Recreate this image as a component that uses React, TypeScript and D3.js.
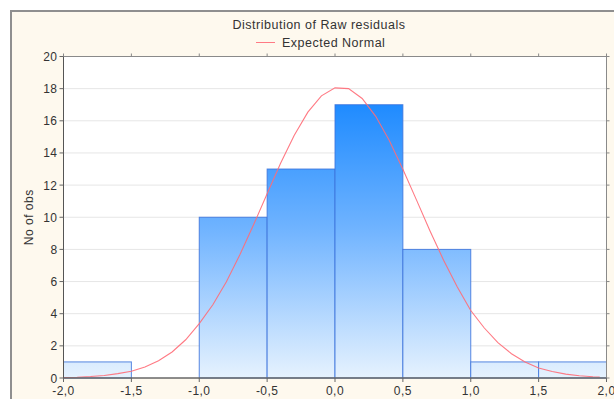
import React from "react";
import * as d3 from "d3";

const binEdges = [-2.0, -1.5, -1.0, -0.5, 0.0, 0.5, 1.0, 1.5, 2.0];
const binCounts = [1, 0, 10, 13, 17, 8, 1, 1];

const curveX = [
  -2.0, -1.9, -1.8, -1.7, -1.6, -1.5, -1.4, -1.3, -1.2, -1.1, -1.0, -0.9, -0.8, -0.7,
  -0.6, -0.5, -0.4, -0.3, -0.2, -0.1, 0.0, 0.1, 0.2, 0.3, 0.4, 0.5, 0.6, 0.7, 0.8,
  0.9, 1.0, 1.1, 1.2, 1.3, 1.4, 1.5, 1.6, 1.7, 1.8, 1.9, 1.95,
];
const curveY = [
  0.03, 0.05, 0.09, 0.16, 0.27, 0.42, 0.68, 1.07, 1.62, 2.38, 3.38, 4.56, 5.99, 7.68,
  9.53, 11.46, 13.37, 15.1, 16.54, 17.55, 18.05, 18.0, 17.39, 16.28, 14.78, 12.99,
  11.08, 9.15, 7.33, 5.68, 4.2, 3.11, 2.2, 1.51, 1.0, 0.62, 0.4, 0.24, 0.14, 0.08, 0.06,
];

const xTicks = [-2.0, -1.5, -1.0, -0.5, 0.0, 0.5, 1.0, 1.5, 2.0];
const yTicks = [0, 2, 4, 6, 8, 10, 12, 14, 16, 18, 20];

const title = "Distribution of Raw residuals";
const legendLabel = "Expected Normal";
const yTitle = "No of obs";

const W = 614;
const H = 399;
const plot = { left: 63.5, right: 606.5, top: 56.5, bottom: 378 };
const FONT = "Arial, 'Liberation Sans', sans-serif";
const FS = 12;
const LS = 0.45;

export default function App() {
  const x = d3.scaleLinear().domain([-2, 2]).range([plot.left, plot.right]);
  const y = d3.scaleLinear().domain([0, 20]).range([plot.bottom, plot.top]);
  const fmt = (v: number) => v.toFixed(1).replace(".", ",");

  const line = d3
    .line<number>()
    .x((_, i) => x(curveX[i]))
    .y((d) => y(d));

  return (
    <svg
      width={W}
      height={H}
      style={{ position: "absolute", left: 0, top: 0, display: "block" }}
      fontFamily={FONT}
    >
      <defs>
        <linearGradient
          id="barGrad"
          gradientUnits="userSpaceOnUse"
          x1={0}
          x2={0}
          y1={y(17)}
          y2={y(0)}
        >
          <stop offset="0%" stopColor="#1f8bff" />
          <stop offset="45%" stopColor="#6fb3ff" />
          <stop offset="100%" stopColor="#e6f2fe" />
        </linearGradient>
        <clipPath id="plotClip">
          <rect
            x={plot.left}
            y={plot.top}
            width={plot.right - plot.left}
            height={plot.bottom - plot.top}
          />
        </clipPath>
      </defs>
      <rect x={0} y={0} width={W} height={H} fill="#ffffff" />
      <rect
        x={11}
        y={11}
        width={W + 20}
        height={H + 20}
        fill="#fef9ee"
        stroke="#8f8f8f"
        strokeWidth={2}
      />
      {/* title + legend */}
      <text x={319} y={29} textAnchor="middle" fontSize={12.5} letterSpacing={0.5} fill="#333">
        {title}
      </text>
      <line x1={256} x2={275} y1={42.5} y2={42.5} stroke="#ff7a84" strokeWidth={1} />
      <text x={282} y={46.5} fontSize={12.5} letterSpacing={0.5} fill="#333">
        {legendLabel}
      </text>

      {/* plot background */}
      <rect
        x={plot.left}
        y={plot.top}
        width={plot.right - plot.left}
        height={plot.bottom - plot.top}
        fill="#ffffff"
      />
      {/* gridlines */}
      {yTicks
        .filter((t) => t > 0 && t < 20)
        .map((t) => (
          <line
            key={"g" + t}
            x1={plot.left}
            x2={plot.right}
            y1={y(t)}
            y2={y(t)}
            stroke="#e6e6e6"
            strokeWidth={1}
          />
        ))}
      {/* bars */}
      {binCounts.map((c, i) =>
        c > 0 ? (
          <rect
            key={"b" + i}
            x={x(binEdges[i])}
            y={y(c)}
            width={x(binEdges[i + 1]) - x(binEdges[i])}
            height={y(0) - y(c)}
            fill="url(#barGrad)"
            stroke="#3c73dc"
            strokeOpacity={0.85}
            strokeWidth={1}
          />
        ) : null
      )}
      {/* curve */}
      <path
        d={line(curveY) || ""}
        fill="none"
        stroke="#ff6b77"
        strokeOpacity={0.9}
        strokeWidth={1.1}
        clipPath="url(#plotClip)"
      />
      {/* plot border */}
      <rect
        x={plot.left}
        y={plot.top}
        width={plot.right - plot.left}
        height={plot.bottom - plot.top}
        fill="none"
        stroke="#8a8a8a"
        strokeWidth={1}
      />
      <line
        x1={plot.left}
        x2={plot.left}
        y1={plot.top}
        y2={plot.bottom}
        stroke="#555"
        strokeWidth={1}
      />
      <line
        x1={plot.left}
        x2={plot.right}
        y1={plot.bottom}
        y2={plot.bottom}
        stroke="#555"
        strokeWidth={1}
      />
      {/* y ticks */}
      {yTicks.map((t) => (
        <g key={"y" + t}>
          <line x1={plot.left - 4} x2={plot.left} y1={y(t)} y2={y(t)} stroke="#666" />
          <line x1={plot.right} x2={plot.right + 3} y1={y(t)} y2={y(t)} stroke="#888" />
          <text
            x={plot.left - 6}
            y={y(t) + 4.5}
            textAnchor="end"
            fontSize={FS}
            letterSpacing={LS}
            fill="#333"
          >
            {t}
          </text>
        </g>
      ))}
      {/* x ticks */}
      {xTicks.map((t) => (
        <g key={"x" + t}>
          <line x1={x(t)} x2={x(t)} y1={plot.bottom} y2={plot.bottom + 4} stroke="#666" />
          <line x1={x(t)} x2={x(t)} y1={plot.top - 3} y2={plot.top} stroke="#888" />
          <text
            x={x(t)}
            y={plot.bottom + 17}
            textAnchor="middle"
            fontSize={FS}
            letterSpacing={LS}
            fill="#333"
          >
            {fmt(t)}
          </text>
        </g>
      ))}
      {/* y title */}
      <text
        transform={`translate(33, ${(plot.top + plot.bottom) / 2}) rotate(-90)`}
        textAnchor="middle"
        fontSize={12}
        letterSpacing={0.5}
        fill="#333"
      >
        {yTitle}
      </text>
    </svg>
  );
}
